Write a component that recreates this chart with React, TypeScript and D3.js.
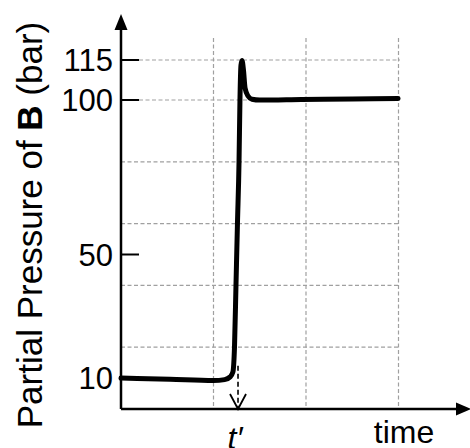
import React from "react";
import * as d3 from "d3";

// time in grid units (schematic), pressure in bar
const times = [0, 0.53, 1.0, 1.12, 1.18, 1.21, 1.227, 1.243, 1.259, 1.276, 1.286, 1.297, 1.308, 1.324, 1.341, 1.373, 1.416, 1.5, 1.95, 2.5, 2.995];
const pressures = [10.0, 9.6, 9.2, 9.5, 10.4, 12, 20, 40, 60, 80, 100, 113, 114.8, 111.2, 104.5, 101.5, 100.3, 100, 100.2, 100.4, 100.6];
const yTickValues = [10, 50, 100, 115];
const yGridValues = [20, 40, 60, 80, 100, 115];
const xGridValues = [1, 2, 3];
const tPrime = 1.265;
const tPrimeP = 14;

const W = 470, H = 448;

export default function App() {
  const x = d3.scaleLinear().domain([0, 3]).range([121, 398.5]);
  const y = d3.scaleLinear().domain([0, 100, 115]).range([409, 100, 60]);
  const data = times.map((t, i) => [t, pressures[i]] as [number, number]);
  const line = d3.line<[number, number]>().x(d => x(d[0])).y(d => y(d[1])).curve(d3.curveMonotoneX);
  const x0 = x(0), yBase = y(0);
  const gridColor = "#a0a0a0";
  const font = "Arial, 'Liberation Sans', sans-serif";
  const ax = x(tPrime);
  return (
    <svg width={W} height={H} style={{ position: "absolute", left: 0, top: 0, background: "#fff" }} fontFamily={font}>
      {/* grid */}
      {yGridValues.map(v => (
        <line key={"hg" + v} x1={v === 115 || v === 100 ? 139 : x0} x2={400} y1={y(v)} y2={y(v)} stroke={gridColor} strokeWidth={1.2} strokeDasharray="4,2.5" />
      ))}
      {xGridValues.map(v => (
        <line key={"vg" + v} x1={x(v)} x2={x(v)} y1={38} y2={yBase} stroke={gridColor} strokeWidth={1.2} strokeDasharray="4,2.5" />
      ))}
      {/* axes */}
      <line x1={x0} x2={x0} y1={yBase} y2={28} stroke="#000" strokeWidth={2.5} />
      <path d={`M${x0 - 6.5},${30} L${x0},${14} L${x0 + 6.5},${30} Z`} fill="#000" />
      <line x1={x0} x2={458} y1={yBase} y2={yBase} stroke="#000" strokeWidth={2.5} />
      <path d={`M${456},${yBase - 6.5} L${471},${yBase} L${456},${yBase + 6.5} Z`} fill="#000" />
      {/* ticks */}
      {yTickValues.map(v => (
        <g key={"t" + v}>
          <line x1={x0} x2={139} y1={y(v)} y2={y(v)} stroke="#000" strokeWidth={2} />
          <text x={113} y={y(v)} dy="0.36em" textAnchor="end" fontSize={31} fill="#000">{v}</text>
        </g>
      ))}
      {/* dashed arrow at t' */}
      <line x1={ax} x2={ax} y1={y(tPrimeP)} y2={yBase - 2} stroke="#000" strokeWidth={1.6} strokeDasharray="5,3" />
      <path d={`M${ax - 8},${yBase - 15} L${ax},${yBase} L${ax + 8},${yBase - 15}`} fill="none" stroke="#000" strokeWidth={1.8} />
      {/* curve */}
      <path d={line(data) || ""} fill="none" stroke="#000" strokeWidth={5} strokeLinejoin="round" strokeLinecap="round" />
      {/* labels */}
      <text x={ax - 3} y={449} textAnchor="middle" fontSize={32} fontStyle="italic" fill="#000">t′</text>
      <text x={404} y={443} textAnchor="middle" fontSize={32} fill="#000">time</text>
      <text transform={`translate(42,225) rotate(-90)`} textAnchor="middle" fontSize={35} fill="#000">
        Partial Pressure of <tspan fontWeight="bold">B</tspan> (bar)
      </text>
    </svg>
  );
}
